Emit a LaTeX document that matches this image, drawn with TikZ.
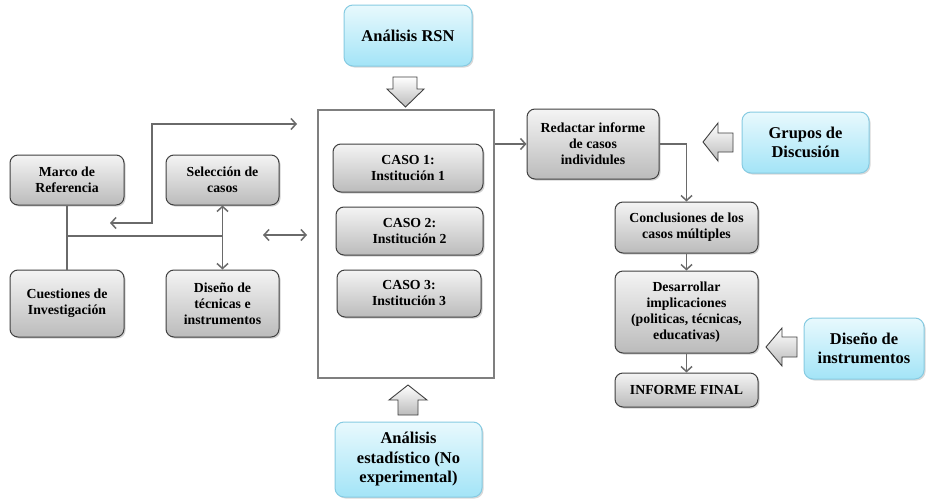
\documentclass[tikz,border=0pt]{standalone}
\usepackage{fontspec}
\setmainfont{Liberation Serif}
\usetikzlibrary{arrows.meta,shadows}

\definecolor{boxedge}{HTML}{404040}
\definecolor{grayTop}{HTML}{F4F4F4}
\definecolor{grayBot}{HTML}{BBBBBB}
\definecolor{cyanTop}{HTML}{E8F9FD}
\definecolor{cyanBot}{HTML}{A3E4F7}
\definecolor{cyanEdge}{HTML}{86CBE2}
\definecolor{linkgray}{HTML}{6A6A6A}
\definecolor{frame}{HTML}{7F7F7F}

\tikzset{
  graybox/.style={rectangle, rounded corners=8pt, draw=boxedge, line width=1pt,
    top color=grayTop, bottom color=grayBot, align=center, inner sep=2pt,
    font=\fontsize{13.8}{16}\selectfont\bfseries,
    drop shadow={shadow xshift=1.5pt, shadow yshift=-1.5pt, opacity=0.35}},
  cyanbox/.style={rectangle, rounded corners=9pt, draw=cyanEdge, line width=1pt,
    top color=cyanTop, bottom color=cyanBot, align=center, inner sep=2pt,
    font=\fontsize{16.5}{19.5}\selectfont\bfseries,
    drop shadow={shadow xshift=1.5pt, shadow yshift=-1.5pt, opacity=0.3}},
  link/.style={draw=linkgray, line width=1.5pt},
  barb/.tip={Straight Barb[length=5pt, width=11pt]},
  blockarrow/.style={draw=boxedge, line width=0.9pt, top color=white,
    bottom color=grayBot, line join=miter}
}

\begin{document}
\begin{tikzpicture}[x=1pt, y=-1pt]
  \useasboundingbox[fill=white] (0,0) rectangle (926,498);

  % central block holding the three cases
  \node[draw=frame, line width=2pt, minimum width=176, minimum height=268,
        inner sep=0pt] (bigbox) at (406,244) {};

  \node[graybox, minimum width=150, minimum height=48] (caso1) at (408,168)
    {CASO 1:\\Institución 1};
  \node[graybox, minimum width=147, minimum height=48] (caso2) at (409.5,231)
    {CASO 2:\\Institución 2};
  \node[graybox, minimum width=144, minimum height=47] (caso3) at (409,293.5)
    {CASO 3:\\Institución 3};

  % inputs above and below the block
  \node[cyanbox, minimum width=128, minimum height=61] (rsn) at (408,35.5)
    {Análisis RSN};
  \node[cyanbox, minimum width=147, minimum height=75] (est) at (408.5,459.5)
    {Análisis\\estadístico (No\\experimental)};

  % left-hand design stage
  \node[graybox, minimum width=114, minimum height=50] (marco) at (67,180)
    {Marco de\\Referencia};
  \node[graybox, minimum width=113, minimum height=50] (sel) at (222.5,180)
    {Selección de\\casos};
  \node[graybox, minimum width=114, minimum height=67] (cuest) at (67,303.5)
    {Cuestiones de\\Investigación};
  \node[graybox, minimum width=113, minimum height=67] (disen) at (222.5,303.5)
    {Diseño de\\técnicas e\\instrumentos};

  % right-hand analysis stage
  \node[graybox, minimum width=132, minimum height=70] (redactar) at (593,144)
    {Redactar informe\\de casos\\individules};
  \node[graybox, minimum width=143, minimum height=51] (concl) at (686.5,227.5)
    {Conclusiones de los\\casos múltiples};
  \node[graybox, minimum width=143, minimum height=82] (desarr) at (686.5,312)
    {Desarrollar\\implicaciones\\(politicas, técnicas,\\educativas)};
  \node[graybox, minimum width=143, minimum height=34] (final) at (686.5,390)
    {INFORME FINAL};

  \node[cyanbox, minimum width=127, minimum height=61] (grupos) at (805.5,142.5)
    {Grupos de\\Discusión};
  \node[cyanbox, minimum width=120, minimum height=61] (disinst) at (864,348.5)
    {Diseño de\\instrumentos};

  % connectors on the left
  \coordinate (jn) at (67,236);
  \coordinate (feedL) at (110,223);
  \coordinate (feedR) at (297,124);
  \coordinate (linkL) at (263,235);
  \coordinate (linkR) at (307,235);

  \draw[link] (marco.south) -- (cuest.north);
  \draw[link] (jn) -- (sel.south |- jn);
  \draw[link, barb-barb] (sel.south) -- (disen.north);
  \draw[link, barb-barb] (feedL) -- (152,223) |- (feedR);
  \draw[link, barb-barb] (linkL) -- (linkR);

  % connectors on the right
  \draw[link, -barb] (redactar.west -| bigbox.east) -- (redactar.west);
  \draw[link, -barb] (redactar.east) -| (concl.north);
  \draw[link, -barb] (concl.south) -- (desarr.north);
  \draw[link, -barb] (desarr.south) -- (final.north);

  % block arrows from the auxiliary inputs
  \draw[blockarrow] (393,77) -- (417,77) -- (417,89) -- (424,89) -- (405.5,107)
    -- (387,89) -- (393,89) -- cycle;
  \draw[blockarrow] (398,415) -- (418,415) -- (418,400) -- (427,400) -- (408,385)
    -- (389,400) -- (398,400) -- cycle;
  \draw[blockarrow] (733,133) -- (733,152) -- (718,152) -- (718,161) -- (703,142)
    -- (718,123) -- (718,133) -- cycle;
  \draw[blockarrow] (797,337) -- (797,357) -- (782,357) -- (782,366) -- (766,347)
    -- (782,328) -- (782,337) -- cycle;
\end{tikzpicture}
\end{document}
